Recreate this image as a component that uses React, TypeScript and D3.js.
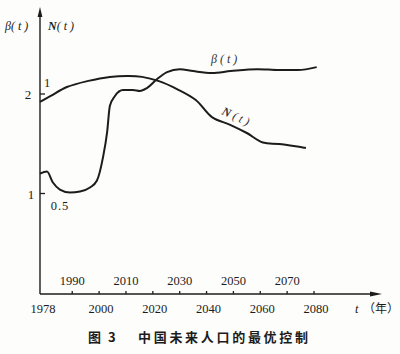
import React from "react";
import * as d3 from "d3";

// N(t): normalized population (right-hand "1 / 0.5" labels)
const nYears = [1978, 1982, 1988, 1996, 2004, 2011, 2016, 2022, 2029, 2036, 2042, 2049, 2055, 2061, 2067, 2077];
const nValues = [0.96, 0.99, 1.035, 1.066, 1.086, 1.091, 1.086, 1.066, 1.025, 0.97, 0.884, 0.844, 0.804, 0.756, 0.749, 0.729];

// β(t): fertility rate (left-hand "1 / 2" labels)
const bYears = [1978, 1980.6, 1982.8, 1985.4, 1989.2, 1992.9, 1996.6, 1999.2, 2001.5, 2003, 2004, 2005.9, 2008.9, 2012.6, 2015.2, 2017.8, 2021.6, 2025.3, 2030, 2035, 2042, 2049, 2059, 2067, 2074, 2081];
const bValues = [1.2, 1.22, 1.11, 1.04, 1.01, 1.02, 1.06, 1.13, 1.37, 1.62, 1.88, 1.98, 2.04, 2.04, 2.03, 2.06, 2.15, 2.22, 2.25, 2.23, 2.21, 2.23, 2.25, 2.24, 2.24, 2.27];

const bottomTicks = [1978, 2000, 2020, 2040, 2060, 2080];
const topTicks = [1990, 2010, 2030, 2050, 2070];
const betaTicks = [1, 2];
const nTickLabels = ["1", "0.5"];
const caption = ["图 3", "中国未来人口的最优控制"];

export default function App() {
  const x = d3.scaleLinear().domain([1978, 2080]).range([40, 314]);
  const yB = d3.scaleLinear().domain([0, 2]).range([293, 94]);
  const yN = d3.scaleLinear().domain([0, 1]).range([293, 94]);

  const lineN = d3
    .line<number>()
    .x((_, i) => x(nYears[i]))
    .y((d) => yN(d))
    .curve(d3.curveCatmullRom.alpha(0.5));
  const lineB = d3
    .line<number>()
    .x((_, i) => x(bYears[i]))
    .y((d) => yB(d))
    .curve(d3.curveMonotoneX);

  const axisY = 294;
  const ink = "#1c1c1c";
  const serif = "'Liberation Serif', 'DejaVu Serif', serif";
  const cjk = "'Noto Sans CJK SC', sans-serif";

  return (
    <svg
      width={400}
      height={354}
      style={{ position: "absolute", left: 0, top: 0, background: "#fdfdfb" }}
    >
      {/* axes */}
      <line x1={40} y1={14} x2={40} y2={axisY} stroke={ink} strokeWidth={1.4} />
      <path d="M40,7 L37.6,17 L42.4,17 Z" fill={ink} />
      <line x1={40} y1={axisY} x2={374} y2={axisY} stroke={ink} strokeWidth={1.4} />
      <path d="M382,294 L370,291.6 L370,296.4 Z" fill={ink} />

      {/* x ticks */}
      {[...bottomTicks, ...topTicks]
        .filter((t) => t !== 1978)
        .map((t) => (
          <line key={"xt" + t} x1={x(t)} x2={x(t)} y1={axisY} y2={axisY - 3} stroke={ink} strokeWidth={1.3} />
        ))}
      {bottomTicks.map((t) => (
        <text key={"bl" + t} x={x(t) + (t === 1978 ? 3 : 2)} y={313} textAnchor="middle" fontFamily={serif} fontSize={12.5} fill={ink}>
          {t}
        </text>
      ))}
      {topTicks.map((t) => (
        <text key={"tl" + t} x={x(t)} y={285} textAnchor="middle" fontFamily={serif} fontSize={12.5} fill={ink}>
          {t}
        </text>
      ))}

      {/* y ticks */}
      {betaTicks.map((t) => (
        <g key={"yt" + t}>
          <line x1={40} x2={45} y1={yB(t)} y2={yB(t)} stroke={ink} strokeWidth={1.3} />
          <text x={t === 2 ? 28 : 31} y={yB(t) + 5} textAnchor="middle" fontFamily={serif} fontSize={13} fill={ink}>
            {t}
          </text>
        </g>
      ))}
      <text x={47} y={87} textAnchor="middle" fontFamily={serif} fontSize={12.5} fill={ink}>
        {nTickLabels[0]}
      </text>
      <text x={60} y={210} textAnchor="middle" fontFamily={serif} fontSize={12.5} fill={ink} letterSpacing={1}>
        {nTickLabels[1]}
      </text>

      {/* axis titles */}
      <text x={5} y={30} fontFamily={serif} fontSize={12} fontStyle="italic" fill={ink}>
        β( t )
      </text>
      <text x={48} y={30} fontFamily={serif} fontSize={12} fontStyle="italic" fill={ink}>
        <tspan fontWeight="bold">N</tspan>( t )
      </text>
      <text x={355} y={313} fontFamily={serif} fontSize={12.5} fontStyle="italic" fill={ink}>
        t
      </text>
      <text x={363} y={313} fontFamily={cjk} fontSize={12} fill={ink}>
        （年）
      </text>

      {/* curves */}
      <path d={lineN(nValues) || ""} fill="none" stroke={ink} strokeWidth={2} strokeLinejoin="round" />
      <path d={lineB(bValues) || ""} fill="none" stroke={ink} strokeWidth={2} strokeLinejoin="round" />

      {/* curve labels */}
      <text x={211} y={63} fontFamily={serif} fontSize={12} fontStyle="italic" fill="#333">
        β ( t )
      </text>
      <text x={221} y={114} fontFamily={serif} fontSize={12} fontStyle="italic" fill="#333" transform="rotate(24 221 114)">
        <tspan fontWeight="bold">N</tspan> ( t )
      </text>

      {/* caption */}
      <text x={88} y={342} fontFamily={cjk} fontSize={13} fontWeight={700} fill={ink} letterSpacing={2}>
        {caption[0]}
      </text>
      <text x={138} y={342} fontFamily={cjk} fontSize={13} fontWeight={700} fill={ink} letterSpacing={2.7}>
        {caption[1]}
      </text>
    </svg>
  );
}
